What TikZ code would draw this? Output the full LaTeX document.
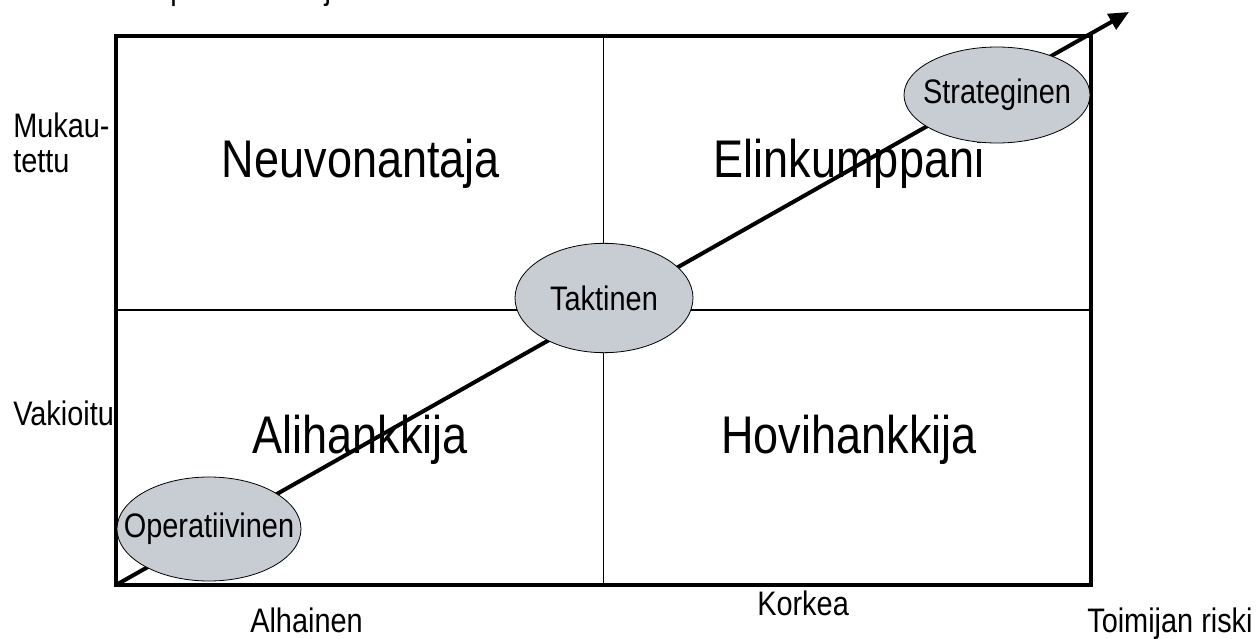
\documentclass[tikz,border=0pt]{standalone}
\usepackage{fontspec}
\setmainfont{Liberation Sans}[FakeStretch=0.85]
\usepackage{tikz}
\usetikzlibrary{shapes.geometric, arrows.meta}
\definecolor{ovalgray}{RGB}{200,205,211}
\tikzstyle{quadlabel} = [font=\fontsize{39.75}{44}\selectfont, anchor=base, inner sep=0pt]
\tikzstyle{axislabel} = [font=\fontsize{25.5}{26.25}\selectfont, anchor=base west, inner sep=0pt, align=left]
\tikzstyle{level} = [ellipse, draw=black, fill=ovalgray, line width=0.6pt, inner sep=0pt, font=\fontsize{25.5}{28}\selectfont]
\tikzstyle{arrow} = [line width=3pt, -{Triangle[length=15pt,width=13pt]}]
% keep the oval size independent of its text
\newcommand{\ovaltext}[1]{\makebox[0pt]{#1}}

\begin{document}
\begin{tikzpicture}[x=0.75pt, y=-0.75pt]
\useasboundingbox (0,0) rectangle (1258,639);

% frame and quadrant dividers
\draw [line width=3pt] (116,36) rectangle (1091,585);
\draw [line width=1.2pt] (603.5,36) -- (603.5,585);
\draw [line width=1.2pt] (116,310) -- (1091,310);

% quadrants
\node (neuvo) [quadlabel] at (361,177) {Neuvonantaja};
\node (elin) [quadlabel] at (849,177) {Elinkumppani};
\node (ali) [quadlabel] at (360,453) {Alihankkija};
\node (hovi) [quadlabel] at (849,453) {Hovihankkija};

% axes
\node (yaxis) [axislabel] at (16,-1) {Ostettavien palveluiden ja tuotteiden räätälöinti};
\node (mukau) [axislabel] at (13,172) {Mukau-\\tettu};
\node (vakio) [axislabel] at (13,425) {Vakioitu};
\node (alh) [axislabel] at (250,632) {Alhainen};
\node (kork) [axislabel] at (757,615) {Korkea};
\node (riski) [axislabel] at (1087,632) {Toimijan riski};

% development path
\coordinate (origin) at (116,585);
\coordinate (tip) at (1129,12);
\draw [arrow] (origin) -- (tip);

\node (oper) [level, minimum width=138pt, minimum height=78pt] at (209,529) {\ovaltext{Operatiivinen}};
\node (takt) [level, minimum width=133.5pt, minimum height=82pt] at (604,298) {\ovaltext{Taktinen}};
\node (strat) [level, minimum width=139.5pt, minimum height=72pt] at (997,95) {\ovaltext{Strateginen}};

\end{tikzpicture}
\end{document}
